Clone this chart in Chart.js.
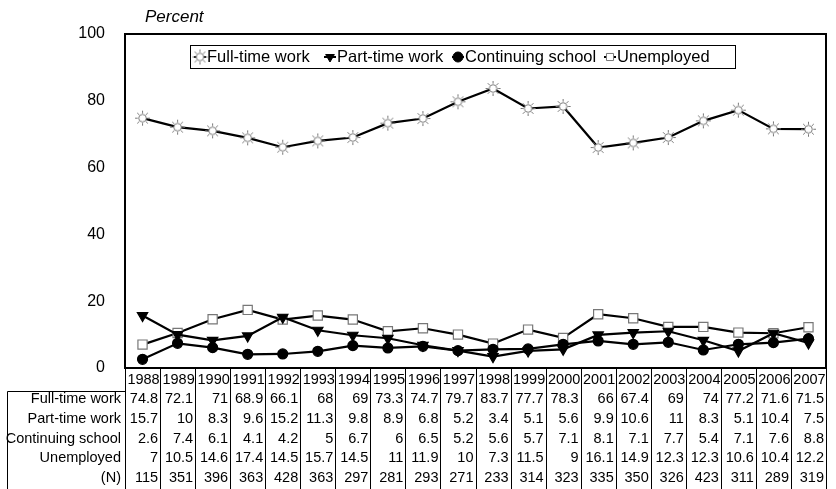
<!DOCTYPE html>
<html>
<head>
<meta charset="utf-8">
<script src="https://cdn.jsdelivr.net/npm/chart.js@4"></script>
<style>
  body { margin: 0; background: #fff; }
  #wrap { width: 836px; height: 489px; }
</style>
</head>
<body>
<div id="wrap"><canvas id="c"></canvas></div>
<script>
const years = ["1988","1989","1990","1991","1992","1993","1994","1995","1996","1997",
               "1998","1999","2000","2001","2002","2003","2004","2005","2006","2007"];
const fullTime   = [74.8,72.1,71,68.9,66.1,68,69,73.3,74.7,79.7,83.7,77.7,78.3,66,67.4,69,74,77.2,71.6,71.5];
const partTime   = [15.7,10,8.3,9.6,15.2,11.3,9.8,8.9,6.8,5.2,3.4,5.1,5.6,9.9,10.6,11,8.3,5.1,10.4,7.5];
const contSchool = [2.6,7.4,6.1,4.1,4.2,5,6.7,6,6.5,5.2,5.6,5.7,7.1,8.1,7.1,7.7,5.4,7.1,7.6,8.8];
const unemployed = [7,10.5,14.6,17.4,14.5,15.7,14.5,11,11.9,10,7.3,11.5,9,16.1,14.9,12.3,12.3,10.6,10.4,12.2];
const nCount     = [115,351,396,363,428,363,297,281,293,271,233,314,323,335,350,326,423,311,289,319];
const yTicks     = [0,20,40,60,80,100];

const FONT = "'Liberation Sans', Arial, sans-serif";

// little "sun" marker for full-time work
function sunMarker() {
  const c = document.createElement("canvas");
  c.width = 17; c.height = 17;
  const g = c.getContext("2d");
  g.strokeStyle = "#777";
  g.lineWidth = 1;
  g.fillStyle = "#fff";
  g.beginPath(); g.arc(8.5, 8.5, 3.8, 0, Math.PI * 2); g.fill(); g.stroke();
  for (let k = 0; k < 8; k++) {
    const a = k * Math.PI / 4;
    g.beginPath();
    g.moveTo(8.5 + Math.cos(a) * 4.8, 8.5 + Math.sin(a) * 4.8);
    g.lineTo(8.5 + Math.cos(a) * 7.5, 8.5 + Math.sin(a) * 7.5);
    g.stroke();
  }
  return c;
}
const sun = sunMarker();

const series = [
  { label: "Full-time work", data: fullTime, pointStyle: sun, pointRadius: 7, pointBackgroundColor: "#fff", pointBorderColor: "#777", rot: 0 },
  { label: "Part-time work", data: partTime, pointStyle: "triangle", pointRadius: 6, pointBackgroundColor: "#000", pointBorderColor: "#000", rot: 180 },
  { label: "Continuing school", data: contSchool, pointStyle: "circle", pointRadius: 5, pointBackgroundColor: "#000", pointBorderColor: "#000", rot: 0 },
  { label: "Unemployed", data: unemployed, pointStyle: "rect", pointRadius: 6.5, pointBackgroundColor: "#fff", pointBorderColor: "#777", rot: 0 }
];

// draws the legend box, "Percent", the plot frame and the data table
const extras = {
  id: "extras",
  afterDraw(chart) {
    const ctx = chart.ctx;
    const a = chart.chartArea;
    const xs = chart.scales.x;
    ctx.save();

    // frame
    ctx.strokeStyle = "#000";
    ctx.lineWidth = 2;
    ctx.strokeRect(a.left, a.top, a.right - a.left, a.bottom - a.top);

    // axis title
    ctx.fillStyle = "#000";
    ctx.font = "italic 17px " + FONT;
    ctx.textAlign = "left";
    ctx.textBaseline = "middle";
    ctx.fillText("Percent", 145, 17);

    // legend
    ctx.lineWidth = 1;
    ctx.strokeRect(190.5, 45.5, 545, 23);
    const lx = [200, 330, 458, 610];
    ctx.font = "16.5px " + FONT;
    series.forEach((s, i) => {
      const cy = 57;
      ctx.strokeStyle = "#000";
      ctx.lineWidth = 2;
      ctx.beginPath(); ctx.moveTo(lx[i] - 6, cy); ctx.lineTo(lx[i] + 6, cy); ctx.stroke();
      if (s.pointStyle === sun) {
        ctx.drawImage(sun, lx[i] - 8.5, cy - 8.5);
      } else {
        ctx.fillStyle = s.pointBackgroundColor;
        ctx.strokeStyle = s.pointBorderColor;
        ctx.lineWidth = 1;
        Chart.helpers.drawPoint(ctx, { pointStyle: s.pointStyle, radius: 5, rotation: s.rot, borderWidth: 1 }, lx[i], cy);
      }
      ctx.fillStyle = "#000";
      ctx.fillText(s.label, lx[i] + 7, cy);
    });

    // data table
    const half = (xs.getPixelForValue(1) - xs.getPixelForValue(0)) / 2;
    const bottom = chart.height;
    ctx.strokeStyle = "#000";
    ctx.lineWidth = 1;
    ctx.beginPath();
    for (let i = 0; i <= years.length; i++) {
      const bx = Math.round(xs.getPixelForValue(i) - half) + 0.5;
      ctx.moveTo(bx, a.bottom);
      ctx.lineTo(bx, bottom);
    }
    ctx.moveTo(7.5, 391.5); ctx.lineTo(a.left, 391.5);
    ctx.moveTo(7.5, 391.5); ctx.lineTo(7.5, bottom);
    ctx.stroke();

    const rowY = [380, 399, 419, 438.5, 458, 477.5];
    const rows = [
      ["Full-time work", fullTime],
      ["Part-time work", partTime],
      ["Continuing school", contSchool],
      ["Unemployed", unemployed],
      ["(N)", nCount]
    ];
    ctx.font = "14.5px " + FONT;
    ctx.fillStyle = "#000";
    ctx.textAlign = "center";
    years.forEach((y, i) => ctx.fillText(y, xs.getPixelForValue(i) + 1, rowY[0]));
    rows.forEach((r, k) => {
      ctx.textAlign = "right";
      ctx.fillText(r[0], a.left - 4, rowY[k + 1]);
      r[1].forEach((v, i) => ctx.fillText(String(v), xs.getPixelForValue(i) + half - 2, rowY[k + 1]));
    });
    ctx.restore();
  }
};

new Chart(document.getElementById("c"), {
  type: "line",
  data: {
    labels: years,
    datasets: series.map(s => ({
      label: s.label,
      data: s.data,
      borderColor: "#000",
      borderWidth: 2.2,
      pointStyle: s.pointStyle,
      pointRadius: s.pointRadius,
      pointRotation: s.rot,
      pointBackgroundColor: s.pointBackgroundColor,
      pointBorderColor: s.pointBorderColor,
      pointBorderWidth: 1.2,
      tension: 0
    }))
  },
  options: {
    responsive: true,
    maintainAspectRatio: false,
    animation: false,
    layout: { padding: { top: 34, right: 10, left: 0, bottom: 0 } },
    plugins: { legend: { display: false }, tooltip: { enabled: false } },
    scales: {
      x: {
        offset: true,
        grid: { display: false },
        ticks: { display: false },
        border: { color: "#000", width: 2 },
        afterFit(s) { s.height = 121; }
      },
      y: {
        min: 0,
        max: 100,
        afterBuildTicks(s) { s.ticks = yTicks.map(v => ({ value: v })); },
        grid: { display: false, drawTicks: false },
        border: { color: "#000", width: 2 },
        ticks: { color: "#000", font: { family: FONT, size: 16 }, padding: 20 },
        afterFit(s) { s.width = 125; }
      }
    }
  },
  plugins: [extras]
});
</script>
</body>
</html>
